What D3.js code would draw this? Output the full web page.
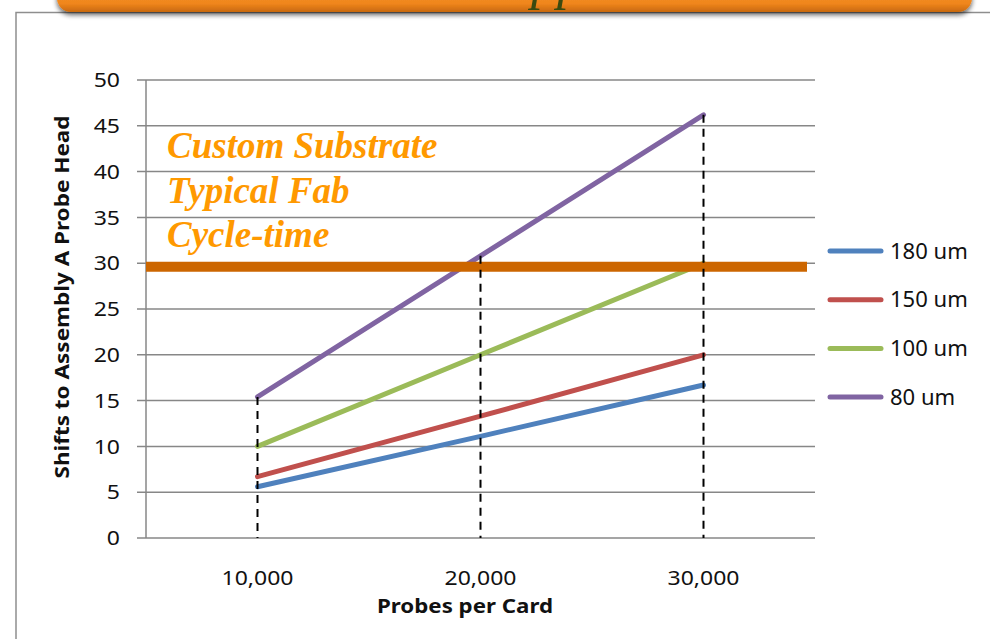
<!DOCTYPE html>
<html>
<head>
<meta charset="utf-8">
<script src="https://cdn.jsdelivr.net/npm/d3@7"></script>
<style>
  html, body { margin: 0; padding: 0; background: #ffffff; }
  svg { display: block; }
</style>
</head>
<body>
<svg id="chart" width="990" height="639"></svg>
<script>
// Probes per card (category axis)
const categories = ["10,000", "20,000", "30,000"];
// Probe pitch series and their shift counts
const seriesNames = ["180 um", "150 um", "100 um", "80 um"];
const values180 = [5.6, 11.1, 16.7];
const values150 = [6.7, 13.3, 20.0];
const values100 = [10.0, 20.0, 30.0];
const values80 = [15.4, 30.8, 46.2];
const seriesColors = ["#4F81BD", "#C0504D", "#9BBB59", "#8064A2"];
// Y axis ticks
const yTicks = [0, 5, 10, 15, 20, 25, 30, 35, 40, 45, 50];
// Reference level: typical fab cycle-time of a custom substrate
const fabCycleShifts = 29.6;
const noteLines = ["Custom Substrate", "Typical Fab", "Cycle-time"];

const seriesValues = [values180, values150, values100, values80];
const series = seriesNames.map((name, i) => ({ name, color: seriesColors[i], values: seriesValues[i] }));

const svg = d3.select("#chart");
const defs = svg.append("defs");

// Header bar shadow
const shadow = defs.append("filter").attr("id", "hdrShadow")
  .attr("x", "-5%").attr("y", "-50%").attr("width", "110%").attr("height", "250%");
shadow.append("feGaussianBlur").attr("in", "SourceAlpha").attr("stdDeviation", 2.5).attr("result", "b");
shadow.append("feOffset").attr("in", "b").attr("dy", 3).attr("result", "o");
shadow.append("feComponentTransfer").attr("in", "o").attr("result", "s")
  .append("feFuncA").attr("type", "linear").attr("slope", 0.6);
const mrg = shadow.append("feMerge");
mrg.append("feMergeNode").attr("in", "s");
mrg.append("feMergeNode").attr("in", "SourceGraphic");

const hdrGrad = defs.append("linearGradient").attr("id", "hdrGrad")
  .attr("x1", 0).attr("y1", 0).attr("x2", 0).attr("y2", 1);
hdrGrad.append("stop").attr("offset", "0%").attr("stop-color", "#F7A040");
hdrGrad.append("stop").attr("offset", "80%").attr("stop-color", "#F0861C");
hdrGrad.append("stop").attr("offset", "100%").attr("stop-color", "#C8680E");

// Slide frame
svg.append("path")
  .attr("d", "M16,639 L16,12.5 L990,12.5")
  .attr("fill", "none").attr("stroke", "#8e8e8e").attr("stroke-width", 1.5);

// Slide header bar; the title sits above the visible area, only its descenders show
svg.append("rect")
  .attr("x", 57).attr("y", -30).attr("width", 915).attr("height", 42)
  .attr("rx", 14).attr("fill", "url(#hdrGrad)").attr("filter", "url(#hdrShadow)");
svg.append("text")
  .attr("x", 531).attr("y", -1)
  .attr("font-family", "'Liberation Serif', serif").attr("font-style", "italic")
  .attr("font-size", 52).attr("fill", "#3a4a10")
  .text("pp");

// Scales
const x = d3.scaleBand().domain(categories).range([146, 815]).padding(0);
const cx = c => x(c) + x.bandwidth() / 2;
const y = d3.scaleLinear().domain([0, 50]).range([538, 80]);

const gridColor = "#878787";
const plot = svg.append("g");

// Horizontal gridlines with left tick marks
plot.selectAll("line.grid").data(yTicks).join("line")
  .attr("class", "grid")
  .attr("x1", 137).attr("x2", 815)
  .attr("y1", d => y(d)).attr("y2", d => y(d))
  .attr("stroke", gridColor).attr("stroke-width", 1.5);

// Y axis line
plot.append("line")
  .attr("x1", 146).attr("x2", 146).attr("y1", y(50)).attr("y2", y(0))
  .attr("stroke", gridColor).attr("stroke-width", 1.5);

const labelFont = "'Noto Sans', 'Open Sans', sans-serif";
function stretch(sel, k) {
  sel.each(function () {
    const w = this.getComputedTextLength();
    d3.select(this).attr("textLength", w * k).attr("lengthAdjust", "spacingAndGlyphs");
  });
}

// Y tick labels
plot.selectAll("text.ytick").data(yTicks).join("text")
  .attr("class", "ytick")
  .attr("x", 120).attr("y", d => y(d)).attr("dy", "0.36em")
  .attr("text-anchor", "end")
  .attr("font-family", labelFont).attr("font-size", 20).attr("fill", "#111")
  .text(d => d)
  .call(stretch, 1.15);

// X tick labels
plot.selectAll("text.xtick").data(categories).join("text")
  .attr("class", "xtick")
  .attr("x", d => cx(d)).attr("y", 585)
  .attr("text-anchor", "middle")
  .attr("font-family", labelFont).attr("font-size", 20).attr("fill", "#111")
  .text(d => d)
  .call(stretch, 1.15);

// Axis titles
svg.append("text")
  .attr("x", 465).attr("y", 613).attr("text-anchor", "middle")
  .attr("font-family", labelFont).attr("font-weight", "bold").attr("font-size", 19).attr("fill", "#111")
  .text("Probes per Card")
  .attr("textLength", 176).attr("lengthAdjust", "spacingAndGlyphs");

svg.append("text")
  .attr("transform", "translate(69,297) rotate(-90)")
  .attr("text-anchor", "middle")
  .attr("font-family", labelFont).attr("font-weight", "bold").attr("font-size", 19).attr("fill", "#111")
  .text("Shifts to Assembly A Probe Head")
  .attr("textLength", 363).attr("lengthAdjust", "spacingAndGlyphs");

// Series lines
const line = d3.line().x((d, i) => cx(categories[i])).y(d => y(d));
plot.selectAll("path.series").data(series).join("path")
  .attr("class", "series")
  .attr("d", d => line(d.values))
  .attr("fill", "none").attr("stroke", d => d.color)
  .attr("stroke-width", 5).attr("stroke-linecap", "round").attr("stroke-linejoin", "round");

// Fab cycle-time reference band
plot.append("line")
  .attr("x1", 146).attr("x2", 807)
  .attr("y1", y(fabCycleShifts)).attr("y2", y(fabCycleShifts))
  .attr("stroke", "#CC6600").attr("stroke-width", 10);

// Dashed drop lines from the highest series value at each category
const topVals = categories.map((c, i) => d3.max(series, s => s.values[i]));
plot.selectAll("line.drop").data(categories).join("line")
  .attr("class", "drop")
  .attr("x1", d => cx(d)).attr("x2", d => cx(d))
  .attr("y1", (d, i) => y(topVals[i])).attr("y2", y(0))
  .attr("stroke", "#000").attr("stroke-width", 2).attr("stroke-dasharray", "8,6");

// Annotation
svg.selectAll("text.note").data(noteLines).join("text")
  .attr("class", "note")
  .attr("x", 167).attr("y", (d, i) => 158 + i * 44.5)
  .attr("font-family", "'Liberation Serif', 'Times New Roman', serif")
  .attr("font-weight", "bold").attr("font-style", "italic")
  .attr("font-size", 37).attr("fill", "#FF9900")
  .text(d => d);

// Legend
const legend = svg.append("g");
const rows = legend.selectAll("g").data(series).join("g")
  .attr("transform", (d, i) => `translate(0,${251 + i * 48.7})`);
rows.append("line")
  .attr("x1", 830).attr("x2", 881).attr("y1", 0).attr("y2", 0)
  .attr("stroke", d => d.color).attr("stroke-width", 5).attr("stroke-linecap", "round");
rows.append("text")
  .attr("x", 890).attr("y", 0).attr("dy", "0.36em")
  .attr("font-family", labelFont).attr("font-size", 21).attr("fill", "#111")
  .text(d => d.name)
  .call(stretch, 1.05);
</script>
</body>
</html>
